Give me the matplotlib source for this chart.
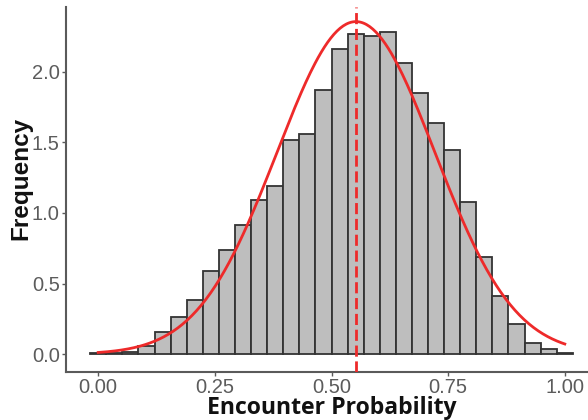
import numpy as np
import matplotlib
matplotlib.use("Agg")
import matplotlib.pyplot as plt

# ---- data ----
bin_centers = [k / 29 for k in range(30)]          # 30 bins over [0, 1]
bin_width = 1 / 29
densities = [0.005, 0.010, 0.018, 0.060, 0.160, 0.260, 0.385, 0.590, 0.740, 0.915,
             1.095, 1.190, 1.520, 1.560, 1.870, 2.160, 2.270, 2.255, 2.280, 2.065,
             1.850, 1.635, 1.445, 1.080, 0.690, 0.415, 0.215, 0.077, 0.034, 0.005]
fit_mean = 0.5524
fit_sd = 0.1693
x_ticks = [0.00, 0.25, 0.50, 0.75, 1.00]
x_tick_labels = ["0.00", "0.25", "0.50", "0.75", "1.00"]
y_ticks = [0.0, 0.5, 1.0, 1.5, 2.0]
y_tick_labels = ["0.0", "0.5", "1.0", "1.5", "2.0"]

W, H = 588, 420
fig = plt.figure(figsize=(W / 100, H / 100), dpi=100)
ax = fig.add_axes([66 / W, 48 / H, (597 - 66) / W, (413 - 48) / H])

red = "#ee2a2a"

ax.bar(bin_centers, densities, width=bin_width, color="#bebebe",
       edgecolor="#333333", linewidth=1.3, zorder=2)

xs = np.linspace(0, 1, 300)
pdf = np.exp(-(xs - fit_mean) ** 2 / (2 * fit_sd ** 2)) / (fit_sd * np.sqrt(2 * np.pi))
ax.plot(xs, pdf, color=red, linewidth=2.0, zorder=3)
ax.axvline(fit_mean, color=red, linewidth=2.0, dashes=(4, 1.7), zorder=4)

ax.set_xlim(-0.069, 1.069)
ax.set_ylim(-0.127, 2.46)

ax.set_xticks(x_ticks)
ax.set_xticklabels(x_tick_labels)
ax.set_yticks(y_ticks)
ax.set_yticklabels(y_tick_labels)

for s in ["top", "right"]:
    ax.spines[s].set_visible(False)
for s in ["left", "bottom"]:
    ax.spines[s].set_color("#5a5a5a")
    ax.spines[s].set_linewidth(1.5)

ax.tick_params(axis="both", direction="out", length=3, width=1.0, color="#5a5a5a",
               labelcolor="#5c5c5c", labelsize=14.5, pad=1.5)
for lab in ax.get_xticklabels() + ax.get_yticklabels():
    lab.set_fontfamily("Liberation Sans")

fig.text(331.5 / W, 6 / H, "Encounter Probability", ha="center", va="baseline",
         fontsize=16.6, fontweight="bold", family="Open Sans", color="#111111")
fig.text(21 / W, 1 - 178 / H, "Frequency", ha="center", va="center", rotation=90,
         fontsize=17.5, fontweight="bold", family="Liberation Sans", color="#111111")

fig.savefig("out.png", dpi=100)
